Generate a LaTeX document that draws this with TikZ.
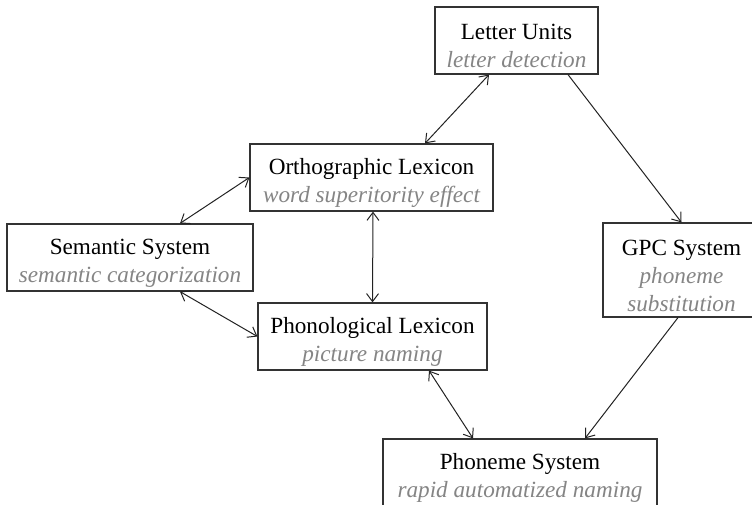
\documentclass[tikz,border=0pt]{standalone}
\usepackage{fontspec}
\setmainfont{Liberation Serif}
\usetikzlibrary{arrows.meta,calc}
\definecolor{subgray}{HTML}{858585}
\definecolor{boxline}{HTML}{333333}
\definecolor{arrowline}{HTML}{222222}
\tikzset{
  box/.style={draw=boxline, line width=1.2pt, fill=white, inner sep=0pt},
  boxtext/.style={label={[inner sep=0pt, align=center, yshift=-5.5pt,
    font=\fontsize{23.2}{28}\selectfont, text=black]center:#1}},
  link/.style={draw=arrowline, line width=1pt, {Straight Barb[length=8pt,width=12pt]}-{Straight Barb[length=8pt,width=12pt]}},
  onelink/.style={draw=arrowline, line width=1pt, -{Straight Barb[length=8pt,width=12pt]}}
}
\newcommand{\sub}[1]{\textcolor{subgray}{\itshape #1}}
\begin{document}
\begin{tikzpicture}[x=1pt,y=-1pt]
\useasboundingbox (0,0) rectangle (752,505);
\clip (0,0) rectangle (752,505);
\node[box, minimum width=163pt, minimum height=67pt, boxtext={Letter Units\\\sub{letter detection}}] (lu) at (516.5,40.5) {};
\node[box, minimum width=243pt, minimum height=67pt, boxtext={Orthographic Lexicon\\\sub{word superitority effect}}] (ol) at (371.5,177.5) {};
\node[box, minimum width=246pt, minimum height=67pt, boxtext={Semantic System\\\sub{semantic categorization}}] (ss) at (130,257.5) {};
\node[box, minimum width=229pt, minimum height=67pt, boxtext={Phonological Lexicon\\\sub{picture naming}}] (pl) at (372.5,336.5) {};
\node[box, minimum width=157pt, minimum height=94pt, boxtext={GPC System\\\sub{phoneme}\\\sub{substitution}}] (gpc) at (681.5,270) {};
\node[box, minimum width=274pt, minimum height=67pt, boxtext={Phoneme System\\\sub{rapid automatized naming}}] (ps) at (520,472.5) {};
\draw[link] ($(lu.south)+(-27.5,0)$) -- ($(ol.north)+(53.5,0)$);
\draw[onelink] ($(lu.south)+(51.5,0)$) -- (gpc.north);
\draw[link] (ol.west) -- ($(ss.north)+(50,0)$);
\draw[link] ($(ol.south)+(1.5,0)$) -- (pl.north);
\draw[link] ($(ss.south)+(50,0)$) -- (pl.west);
\draw[link] ($(pl.south)+(56.5,0)$) -- ($(ps.north)+(-47,0)$);
\draw[onelink] ($(gpc.south)+(-3.5,0)$) -- ($(ps.north)+(65,0)$);
\end{tikzpicture}
\end{document}
